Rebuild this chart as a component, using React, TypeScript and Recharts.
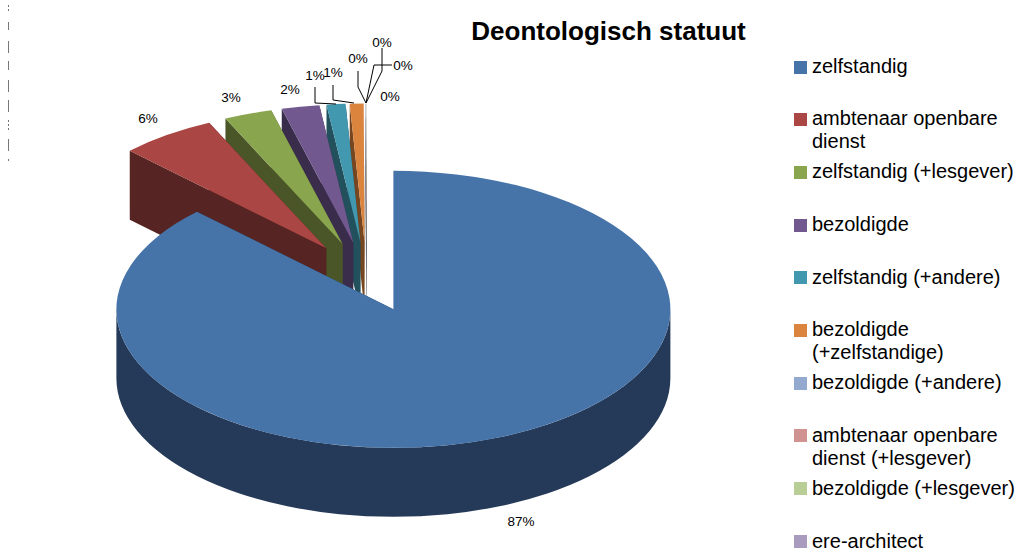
import { Legend, Pie, PieChart } from "recharts"

const categories = [
  "zelfstandig",
  "ambtenaar openbare dienst",
  "zelfstandig (+lesgever)",
  "bezoldigde",
  "zelfstandig (+andere)",
  "bezoldigde (+zelfstandige)",
  "bezoldigde (+andere)",
  "ambtenaar openbare dienst (+lesgever)",
  "bezoldigde (+lesgever)",
  "ere-architect",
]
const shares = [87.45, 5.6, 2.8, 2.2, 1.1, 0.8, 0.0125, 0.0125, 0.0125, 0.0125]
const topColors = ["#4674A9", "#AA4643", "#89A54E", "#71588F", "#4198AF", "#DB843D", "#93A9CF", "#D19392", "#B9CD96", "#A99BBD"]
const sideColors = ["#253A58", "#552423", "#4A5528", "#3A2D4B", "#22505C", "#75461F", "#4C5A6E", "#6E4D4C", "#616C4F", "#595163"]

// label anchor and leader polyline, same order as categories
const labelSpots = [
  { x: 521, y: 521 },
  { x: 148, y: 118 },
  { x: 231, y: 97 },
  { x: 290, y: 89 },
  { x: 315, y: 75, leader: "315,87 315,103 336,104" },
  { x: 333, y: 72, leader: "333,85 333,100 354,103" },
  { x: 358, y: 58, leader: "358,71 358,87 366,103" },
  { x: 382, y: 42, leader: "382,48 382,71 366,103" },
  { x: 403, y: 65, leader: "392,65 374,65 366,103" },
  { x: 390, y: 96 },
]

const TILT = 0.5
const DEPTH = 69
const EXPLODE = 70

// pie runs counter-clockwise from the top, so the big slice is painted last
const rows = categories
  .map((name, i) => ({ name, value: shares[i], index: i, fill: topColors[i], side: sideColors[i] }))
  .reverse()

function Wedge(props: any) {
  const { cx, cy, outerRadius: r, startAngle, endAngle } = props
  const { side, fill } = props.payload ?? props
  const rad = Math.PI / 180
  const from = Math.min(startAngle, endAngle)
  const to = Math.max(startAngle, endAngle)
  const mid = ((from + to) / 2) * rad
  const ox = cx + EXPLODE * Math.cos(mid)
  const oy = cy - EXPLODE * Math.sin(mid) * TILT
  const ry = r * TILT
  const pt = (a: number, drop = 0) =>
    `${ox + r * Math.cos(a * rad)} ${oy - ry * Math.sin(a * rad) + drop}`
  const large = to - from > 180 ? 1 : 0
  const top = `M${ox} ${oy} L${pt(from)} A${r} ${ry} 0 ${large} 0 ${pt(to)} Z`
  const wall = (a: number) =>
    `M${ox} ${oy} L${pt(a)} L${pt(a, DEPTH)} L${ox} ${oy + DEPTH} Z`
  // rim only shows on the front half
  const rimFrom = Math.max(from, 180)
  const rimTo = Math.min(to, 360)
  const rim =
    rimTo > rimFrom
      ? `M${pt(rimFrom)} A${r} ${ry} 0 0 0 ${pt(rimTo)} L${pt(rimTo, DEPTH)} A${r} ${ry} 0 0 1 ${pt(rimFrom, DEPTH)} Z`
      : null
  return (
    <g>
      <path d={wall(from)} fill={side} />
      <path d={wall(to)} fill={side} />
      {rim && <path d={rim} fill={side} />}
      <path d={top} fill={fill} />
    </g>
  )
}

function renderLabel(props: any) {
  const spot = labelSpots[props.payload?.index ?? props.index]
  return (
    <g>
      {spot.leader && <polyline points={spot.leader} fill="none" stroke="#000" strokeWidth={1} />}
      <text x={spot.x} y={spot.y} textAnchor="middle" dominantBaseline="central" fontSize={13.5} fill="#000">
        {`${Math.round(props.percent * 100)}%`}
      </text>
    </g>
  )
}

function LegendBox() {
  return (
    <div style={{ position: "relative", width: 243, height: 549 }}>
      {categories.map((name, i) => (
        <div
          key={name}
          style={{ position: "absolute", left: 18, top: 54.5 + i * 52.67, width: 225, fontSize: 20, lineHeight: "23px", color: "#000" }}
        >
          <span style={{ position: "absolute", left: 0, top: 6, width: 13, height: 13, background: topColors[i] }} />
          <div style={{ marginLeft: 18, marginTop: i * 0.12 }}>{name}</div>
        </div>
      ))}
    </div>
  )
}

export default function App() {
  return (
    <div style={{ position: "absolute", left: 0, top: 0, width: 1019, height: 549, overflow: "hidden", fontFamily: "'Liberation Sans', Arial, sans-serif" }}>
      <PieChart width={1019} height={549} margin={{ top: 0, right: 0, bottom: 0, left: 0 }}>
        <text x={608.5} y={31} textAnchor="middle" dominantBaseline="central" fontSize={26} fontWeight="bold" fill="#000">
          Deontologisch statuut
        </text>
        <path d="M8.5 5V7M8.5 9V11M8.5 22V30M8.5 41V53M8.5 61V70M8.5 80V92M8.5 100V112M8.5 120V122M8.5 124V126M8.5 128V130M8.5 139V151M8.5 159V161" stroke="#777" strokeWidth={1} fill="none" />
        <Pie
          data={rows}
          dataKey="value"
          nameKey="name"
          cx={366.5}
          cy={277}
          outerRadius={277}
          startAngle={90}
          endAngle={450}
          paddingAngle={0}
          stroke="none"
          shape={Wedge}
          label={renderLabel}
          labelLine={false}
          isAnimationActive={false}
        />
        <Legend layout="vertical" align="right" verticalAlign="middle" content={() => <LegendBox />} wrapperStyle={{ left: 776, top: 0, width: 243, height: 549 }} />
      </PieChart>
    </div>
  )
}
